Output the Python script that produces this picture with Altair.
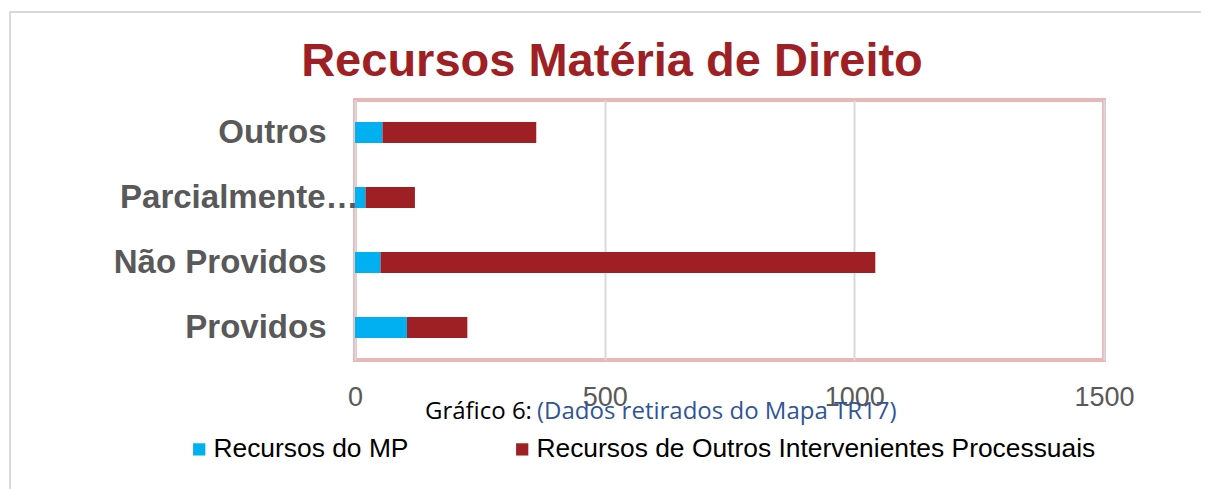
import altair as alt
import pandas as pd

categories = ["Outros", "Parcialmente Providos", "Não Providos", "Providos"]
recursos_mp = [55, 21, 51, 104]
recursos_outros = [308, 99, 991, 121]
series_names = ["Recursos do MP", "Recursos de Outros Intervenientes Processuais"]
series_colors = ["#00b0f0", "#9e1f24"]
x_ticks = [0, 500, 1000, 1500]
title_text = "Recursos Matéria de Direito"
caption_black = "Gráfico 6:"
caption_blue = "(Dados retirados do Mapa TR17)"

rows = []
for c, a, b in zip(categories, recursos_mp, recursos_outros):
    rows.append({"categoria": c, "serie": series_names[0], "valor": a, "ordem": 0})
    rows.append({"categoria": c, "serie": series_names[1], "valor": b, "ordem": 1})
df = pd.DataFrame(rows)

W, H = 749, 260

bars = alt.Chart(df).mark_bar(size=21).encode(
    y=alt.Y("categoria:N", sort=categories, title=None,
            scale=alt.Scale(paddingInner=0.68, paddingOuter=0.34),
            axis=alt.Axis(domain=False, ticks=False, grid=False,
                          labelFont="Liberation Sans", labelFontWeight="bold",
                          labelFontSize=33, labelColor="#595959",
                          labelLimit=400,
                          labelExpr="datum.value == 'Parcialmente Providos' ? 'Parcialmente…' : datum.value",
                          labelPadding={"condition": {"test": "datum.value == 'Parcialmente Providos'", "value": -3}, "value": 29})),
    x=alt.X("valor:Q", stack="zero", title=None,
            scale=alt.Scale(domain=[0, 1500], nice=False),
            axis=alt.Axis(values=x_ticks, format="d", domain=False, ticks=False, grid=True,
                          gridColor="#d9d9d9", gridWidth=2, labelFlush=False,
                          labelFont="Liberation Sans", labelFontSize=27,
                          labelColor="#595959", labelPadding=24)),
    color=alt.Color("serie:N", sort=series_names,
                    scale=alt.Scale(domain=series_names, range=series_colors),
                    legend=alt.Legend(title=None, orient="none", direction="horizontal",
                                      legendX=-169, legendY=336,
                                      symbolType="square", symbolSize=150,
                                      symbolStrokeWidth=0, labelFont="Liberation Sans",
                                      labelFontSize=26.4, labelColor="#000000",
                                      labelOffset=1, columnPadding=100, labelLimit=800)),
    order=alt.Order("ordem:Q"),
)

title = alt.Chart(pd.DataFrame({"t": [title_text]})).mark_text(
    font="Liberation Sans", fontWeight="bold", fontSize=47, color="#9e1f24",
    align="center", baseline="alphabetic"
).encode(text="t:N", x=alt.value(257), y=alt.value(-24))

cap1 = alt.Chart(pd.DataFrame({"t": [caption_black]})).mark_text(
    font="Open Sans", fontSize=24, color="#000000", align="left", baseline="alphabetic"
).encode(text="t:N", x=alt.value(70), y=alt.value(319))

cap2 = alt.Chart(pd.DataFrame({"t": [caption_blue]})).mark_text(
    font="Open Sans", fontSize=24, color="#2f5597", align="left", baseline="alphabetic"
).encode(text="t:N", x=alt.value(182), y=alt.value(319))

outer_box = alt.Chart(pd.DataFrame({"a": [0]})).mark_rect(
    fill=None, fillOpacity=0, stroke="#d9d9d9", strokeWidth=2
).encode(x=alt.value(-345), x2=alt.value(900), y=alt.value(-88), y2=alt.value(420))

chart = alt.layer(outer_box, bars, title, cap1, cap2).properties(
    width=W, height=H,
    autosize=alt.AutoSizeParams(type="none"),
    padding={"left": 347, "top": 92, "right": 97, "bottom": 141},
).configure_view(
    stroke="#e6b9b8", strokeWidth=4
)

chart.save("out.html", embed_options={"renderer": "svg", "actions": False})
